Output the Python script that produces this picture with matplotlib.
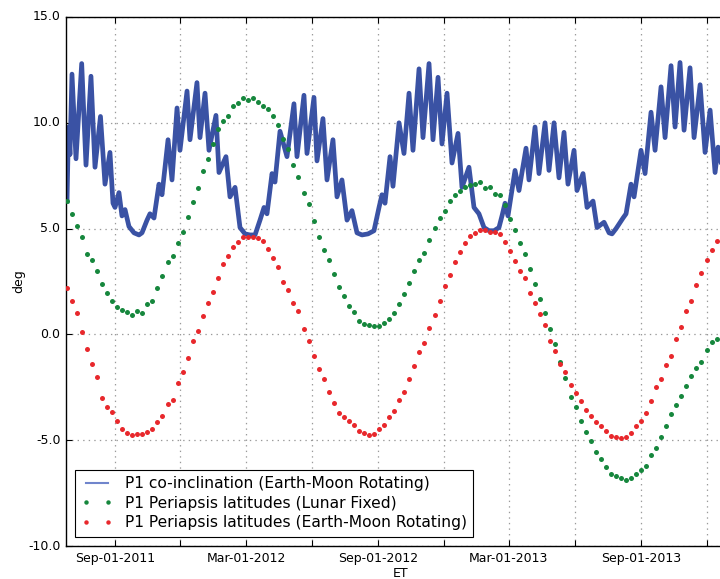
import numpy as np
import pandas as pd
import matplotlib
matplotlib.use("Agg")
import matplotlib.pyplot as plt
import matplotlib.dates as mdates
from matplotlib.lines import Line2D
from matplotlib.ticker import FuncFormatter, FormatStrFormatter

start = pd.Timestamp("2011-06-26")

# weekly samples for the periapsis latitude series (days since start)
week_days = np.arange(0, 917, 7)

lat_lunar_fixed = [
    6.3, 5.7, 5.1, 4.6, 3.8, 3.5, 3.0, 2.4, 1.95, 1.6,
    1.3, 1.15, 1.05, 0.9, 1.1, 1.0, 1.45, 1.6, 2.2, 2.75,
    3.4, 3.7, 4.3, 4.85, 5.55, 6.25, 6.9, 7.7, 8.3, 9.0,
    9.7, 10.1, 10.3, 10.8, 10.95, 11.15, 11.1, 11.15, 11.0, 10.8,
    10.65, 10.3, 9.9, 9.25, 8.75, 8.0, 7.45, 6.7, 6.15, 5.35,
    4.6, 4.0, 3.5, 2.85, 2.25, 1.8, 1.35, 1.05, 0.65, 0.48,
    0.45, 0.4, 0.4, 0.55, 0.75, 1.0, 1.45, 1.9, 2.45, 3.0,
    3.5, 3.85, 4.45, 5.05, 5.5, 5.85, 6.3, 6.6, 6.8, 6.95,
    7.05, 7.1, 7.2, 6.9, 6.95, 6.65, 6.6, 6.1, 5.45, 4.95,
    4.3, 3.8, 3.1, 2.4, 1.65, 1.0, 0.25, -0.45, -1.3, -2.05,
    -2.95, -3.45, -4.1, -4.6, -5.05, -5.55, -5.9, -6.25, -6.6, -6.7,
    -6.8, -6.9, -6.8, -6.6, -6.4, -6.2, -5.7, -5.35, -4.85, -4.35,
    -3.75, -3.35, -2.9, -2.45, -1.95, -1.6, -1.3, -0.75, -0.35, -0.2,
    -0.15,
]

lat_em_rot = [
    2.2, 1.6, 1.0, 0.1, -0.7, -1.4, -2.0, -3.0, -3.45, -3.65,
    -4.1, -4.45, -4.65, -4.75, -4.7, -4.7, -4.6, -4.45, -4.15, -3.85,
    -3.3, -3.1, -2.3, -1.8, -1.1, -0.3, 0.15, 0.85, 1.5, 2.0,
    2.65, 3.35, 3.7, 4.15, 4.35, 4.6, 4.6, 4.6, 4.55, 4.4,
    4.05, 3.6, 3.2, 2.5, 2.1, 1.5, 1.1, 0.25, -0.3, -1.0,
    -1.65, -2.1, -2.7, -3.25, -3.7, -3.9, -4.1, -4.3, -4.55, -4.65,
    -4.75, -4.7, -4.45, -4.3, -3.9, -3.6, -3.1, -2.7, -2.1, -1.5,
    -0.85, -0.4, 0.3, 0.9, 1.6, 2.3, 2.8, 3.4, 3.9, 4.3,
    4.65, 4.8, 4.95, 4.95, 4.85, 4.85, 4.75, 4.35, 3.95, 3.45,
    3.0, 2.65, 1.95, 1.5, 0.95, 0.45, -0.3, -0.8, -1.4, -1.8,
    -2.4, -2.75, -3.15, -3.55, -3.85, -4.15, -4.35, -4.55, -4.8, -4.85,
    -4.9, -4.85, -4.65, -4.35, -4.1, -3.7, -3.15, -2.5, -2.1, -1.45,
    -1.0, -0.2, 0.35, 1.1, 1.6, 2.35, 2.9, 3.5, 4.0, 4.4,
    4.5,
]

# co-inclination: peaks and troughs of the fast wiggle (days since start, deg)
coinc_days = [
    0.3, 2.4, 4.4, 7.2, 12.8, 20.7, 26.7, 33.6, 39.2, 46.8,
    53.1, 60.0, 64.2, 67.0, 72.5, 76.7, 80.9, 86.4, 93.4, 100.3,
    104.5, 111.5, 115.6, 121.2, 128.1, 132.3, 140.7, 146.2, 153.2, 157.3,
    167.1, 171.2, 180.9, 185.1, 192.1, 197.6, 207.3, 211.5, 221.2, 226.8,
    233.8, 240.7, 247.7, 254.6, 261.6, 268.5, 274.1, 278.2, 285.2, 289.3,
    296.3, 306.0, 315.7, 319.9, 329.6, 333.8, 343.5, 347.7, 356.0, 361.6,
    369.9, 375.5, 382.4, 389.4, 396.3, 403.3, 410.2, 418.6, 426.9, 433.9,
    438.0, 442.2, 449.2, 453.3, 461.7, 468.6, 475.6, 481.1, 489.5, 495.0,
    503.4, 508.9, 515.9, 521.4, 528.4, 535.3, 543.7, 549.2, 558.9, 565.9,
    572.8, 579.8, 586.7, 593.7, 600.6, 604.8, 609.0, 613.1, 622.9, 628.4,
    638.2, 642.3, 650.7, 656.2, 664.6, 670.1, 677.1, 684.0, 691.0, 696.5,
    704.9, 709.0, 717.4, 723.0, 731.3, 736.9, 746.6, 753.6, 757.7, 763.3,
    773.0, 777.2, 784.1, 788.3, 798.0, 803.6, 811.9, 817.5, 825.8, 831.4,
    839.7, 845.3, 852.2, 857.8, 866.1, 871.7, 880.1, 887.0, 894.0, 900.9,
    905.1, 910.6,
]
coinc_deg = [
    6.3, 9.8, 8.5, 12.3, 8.3, 12.8, 8.0, 12.2, 7.9, 10.3,
    7.1, 8.6, 6.2, 6.0, 6.7, 5.6, 5.9, 5.1, 4.8, 4.7,
    4.8, 5.4, 5.7, 5.5, 7.1, 6.6, 9.2, 7.3, 10.7, 8.7,
    11.5, 9.2, 11.9, 9.3, 11.4, 8.7, 10.35, 7.65, 8.4, 6.5,
    6.95, 5.05, 4.75, 4.7, 4.7, 5.4, 6.0, 5.7, 7.6, 7.2,
    9.6, 8.4, 10.9, 8.4, 11.3, 8.55, 11.2, 8.2, 10.2, 7.3,
    9.2, 6.5, 7.3, 5.4, 5.85, 4.8, 4.7, 4.75, 4.9, 6.0,
    6.6, 6.2, 8.4, 7.0, 10.0, 8.55, 11.4, 8.7, 12.55, 9.3,
    12.8, 9.2, 12.15, 9.0, 11.4, 8.1, 9.5, 6.95, 7.9, 6.0,
    5.7, 5.05, 4.9, 4.9, 5.05, 5.6, 6.2, 5.6, 7.75, 6.8,
    8.8, 7.3, 9.8, 7.6, 10.0, 7.75, 10.0, 7.4, 9.55, 7.1,
    8.7, 6.8, 7.6, 6.0, 6.3, 5.05, 5.3, 4.8, 4.75, 5.0,
    5.5, 5.7, 7.1, 6.5, 8.7, 7.6, 10.5, 8.7, 11.7, 9.3,
    12.7, 9.8, 12.85, 9.65, 12.6, 9.3, 11.8, 8.6, 10.6, 7.65,
    8.85, 7.9,
]

week_dates = start + pd.to_timedelta(week_days, unit="D")
coinc_dates = start + pd.to_timedelta(coinc_days, unit="D")

colors = {
    'coinc': '#3a52a4',
    'coinc_legend': '#7085cc',
    'lunar': '#16873d',
    'emrot': '#e8282c',
}

plt.style.use('classic')
plt.rcParams.update({
    'font.family': 'DejaVu Sans',
    'axes.unicode_minus': False,
    'xtick.labelsize': 9,
    'ytick.labelsize': 9,
})

fig = plt.figure(figsize=(7.2, 5.79), dpi=100)
fig.patch.set_facecolor('white')
# axes runs past the right edge of the image, like the cropped original
ax = fig.add_axes([66 / 720, 1 - 546 / 579, 669 / 720, 529 / 579])

ax.plot(coinc_dates, coinc_deg, color=colors['coinc'], linewidth=3.4,
        solid_joinstyle='round', zorder=2)
ax.plot(week_dates, lat_lunar_fixed, linestyle='none', marker='o',
        markersize=3.6, markeredgewidth=0, color=colors['lunar'], zorder=3)
ax.plot(week_dates, lat_em_rot, linestyle='none', marker='o',
        markersize=3.6, markeredgewidth=0, color=colors['emrot'], zorder=3)

ax.set_xlim(start - pd.Timedelta(days=1.1), start + pd.Timedelta(days=928.6))
ax.set_ylim(-10, 15)
ax.set_yticks([-10, -5, 0, 5, 10, 15])
ax.yaxis.set_major_formatter(FormatStrFormatter('%.1f'))

ax.xaxis.set_major_locator(mdates.MonthLocator(bymonth=[3, 6, 9, 12]))


def month_label(x, pos):
    d = mdates.num2date(x)
    if d.month in (3, 9):
        return d.strftime('%b-%d-%Y')
    return ''


ax.xaxis.set_major_formatter(FuncFormatter(month_label))
ax.tick_params(direction='in', length=4, width=0.8)

ax.grid(True, color='#9a9a9a', linestyle=':', linewidth=0.9)
ax.set_axisbelow(True)

ax.set_xlabel("ET", fontsize=9, labelpad=2)
ax.set_ylabel("deg", fontsize=9, labelpad=2)

handles = [
    Line2D([], [], color=colors['coinc_legend'], linewidth=1.5),
    Line2D([], [], linestyle='none', marker='o', markersize=3.2,
           markeredgewidth=0, color=colors['lunar']),
    Line2D([], [], linestyle='none', marker='o', markersize=3.2,
           markeredgewidth=0, color=colors['emrot']),
]
labels = [
    "P1 co-inclination (Earth-Moon Rotating)",
    "P1 Periapsis latitudes (Lunar Fixed)",
    "P1 Periapsis latitudes (Earth-Moon Rotating)",
]
leg = ax.legend(handles, labels, loc='lower left', numpoints=2,
                fontsize=11.2, frameon=True, fancybox=False,
                borderaxespad=0.6, labelspacing=0.3, handlelength=2.0)
leg.get_frame().set_edgecolor('black')
leg.get_frame().set_linewidth(0.8)

plt.savefig("out.png", dpi=100, facecolor='white')
